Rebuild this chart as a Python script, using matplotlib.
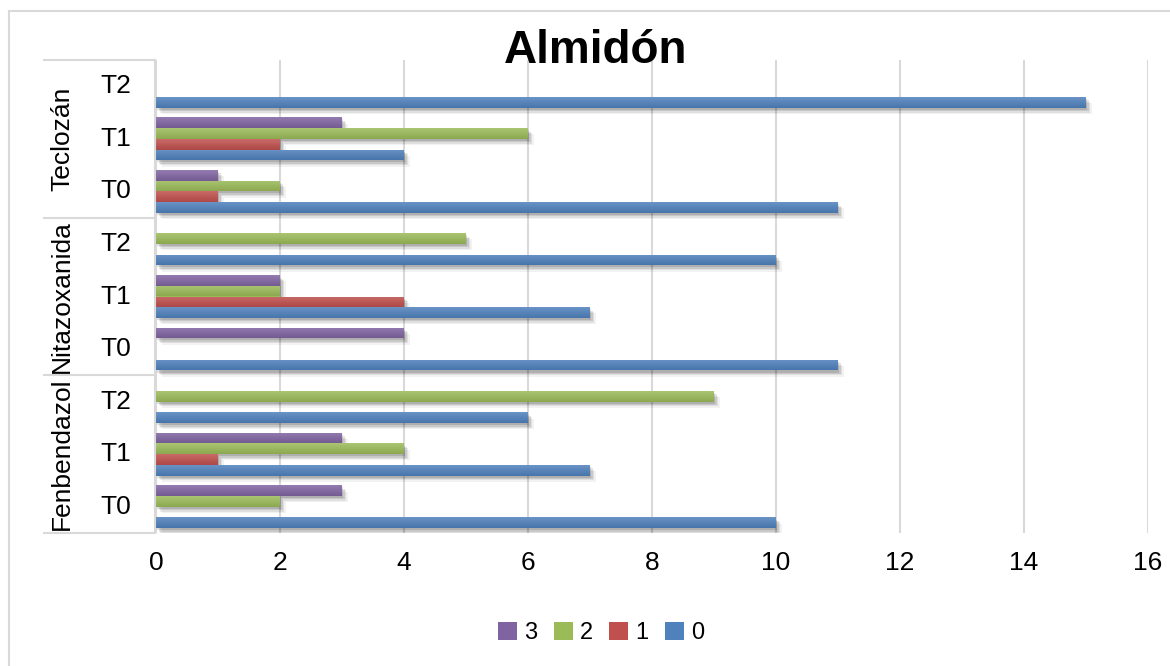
import numpy as np
import matplotlib
matplotlib.use("Agg")
import matplotlib.pyplot as plt
import matplotlib.patheffects as pe
import matplotlib.transforms as mtransforms
from matplotlib.lines import Line2D
from matplotlib.patches import Patch
from matplotlib.colors import to_rgb

plt.rcParams['font.family'] = ['Liberation Sans', 'DejaVu Sans']

# Categories, bottom to top
groups = ["Fenbendazol", "Nitazoxanida", "Teclozán"]
times = ["T0", "T1", "T2"]
series_names = ["0", "1", "2", "3"]
series_colors = ["#4F81BD", "#C0504D", "#9BBB59", "#8064A2"]

# Counts per category (Fenbendazol T0..T2, Nitazoxanida T0..T2, Teclozán T0..T2)
s0 = [10, 7, 6, 11, 7, 10, 11, 4, 15]
s1 = [0, 1, 0, 0, 4, 0, 1, 2, 0]
s2 = [2, 4, 9, 0, 2, 5, 2, 6, 0]
s3 = [3, 3, 0, 4, 2, 0, 1, 3, 0]
series_values = [s0, s1, s2, s3]

x_ticks = [0, 2, 4, 6, 8, 10, 12, 14, 16]

W, H = 1170, 666
fig = plt.figure(figsize=(W / 100, H / 100), dpi=100)
ax = fig.add_axes([156 / W, 1 - 533 / H, (1148 - 156) / W, (533 - 60) / H])

n_cat = len(groups) * len(times)
y = np.arange(n_cat)
bar_h = 0.204


def shade(c, f):
    r = np.array(to_rgb(c))
    if f >= 0:
        return tuple(r + (1 - r) * f)
    return tuple(r * (1 + f))


shadow = [
    pe.SimplePatchShadow(offset=(4.0, -4.5), shadow_rgbFace="black", alpha=0.05),
    pe.SimplePatchShadow(offset=(3.0, -3.5), shadow_rgbFace="black", alpha=0.08),
    pe.SimplePatchShadow(offset=(2.0, -2.5), shadow_rgbFace="black", alpha=0.10),
    pe.SimplePatchShadow(offset=(1.0, -1.5), shadow_rgbFace="black", alpha=0.12),
    pe.Normal(),
]

for k, (vals, col) in enumerate(zip(series_values, series_colors)):
    vals = np.asarray(vals, dtype=float)
    pos = y + (k - 1.5) * bar_h
    keep = vals > 0
    bars = ax.barh(pos[keep], vals[keep], height=bar_h, color=col,
                   edgecolor="none", zorder=3)
    top_c = np.array(shade(col, 0.15))
    bot_c = np.array(shade(col, -0.10))
    grad = np.linspace(0, 1, 32)[:, None, None]
    img = bot_c * grad + top_c * (1 - grad)
    for b in bars:
        b.set_path_effects(shadow)
        x0, y0 = b.get_x(), b.get_y()
        x1, y1 = x0 + b.get_width(), y0 + b.get_height()
        im = ax.imshow(img, extent=[x0, x1, y0, y1], origin="upper",
                       aspect="auto", zorder=3.5, interpolation="bilinear")
        im.set_clip_path(b)

ax.set_xlim(0, 16)
ax.set_ylim(-0.5, n_cat - 0.5)
ax.set_xticks(x_ticks)
ax.set_xticklabels([str(t) for t in x_ticks], fontsize=19)
ax.set_yticks([])
ax.tick_params(axis="x", length=0, pad=13)
ax.grid(axis="x", color="#D9D9D9", linewidth=1.5, zorder=0)
ax.set_axisbelow(True)
for sp in ax.spines.values():
    sp.set_visible(False)

# Two-level category axis on the left
bt = mtransforms.blended_transform_factory(fig.transFigure, ax.transData)
for i in range(n_cat):
    fig.text(116 / W, y[i], times[i % 3], transform=bt, ha="center",
             va="center", fontsize=19)
for g, name in enumerate(groups):
    fig.text(62 / W, 3 * g + 1, name, transform=bt, ha="center",
             va="center", rotation=90, fontsize=19)
for yy in [-0.5, 2.5, 5.5, 8.5]:
    fig.add_artist(Line2D([44 / W, 155 / W], [yy, yy], transform=bt,
                          color="#D9D9D9", linewidth=1.5))
fig.add_artist(Line2D([155 / W, 155 / W], [-0.5, 8.5], transform=bt,
                      color="#D9D9D9", linewidth=1.5))

# Chart frame
fig.add_artist(Line2D([9 / W, 1], [1 - 11 / H, 1 - 11 / H],
                      transform=fig.transFigure, color="#D9D9D9", linewidth=1.5))
fig.add_artist(Line2D([9 / W, 9 / W], [0, 1 - 11 / H],
                      transform=fig.transFigure, color="#D9D9D9", linewidth=1.5))

fig.text(596 / W, 1 - 63 / H, "Almidón", ha="center", va="baseline",
         fontsize=33, fontweight="bold")

handles = [Patch(facecolor=series_colors[k], edgecolor="none",
                 label=series_names[k]) for k in range(3, -1, -1)]
fig.legend(handles=handles, loc="center", bbox_to_anchor=(601 / W, 1 - 633 / H),
           ncol=4, frameon=False, fontsize=17, handlelength=0.8,
           handleheight=0.8, handletextpad=0.3, columnspacing=0.7,
           borderaxespad=0)

fig.savefig("out.png", dpi=100)
